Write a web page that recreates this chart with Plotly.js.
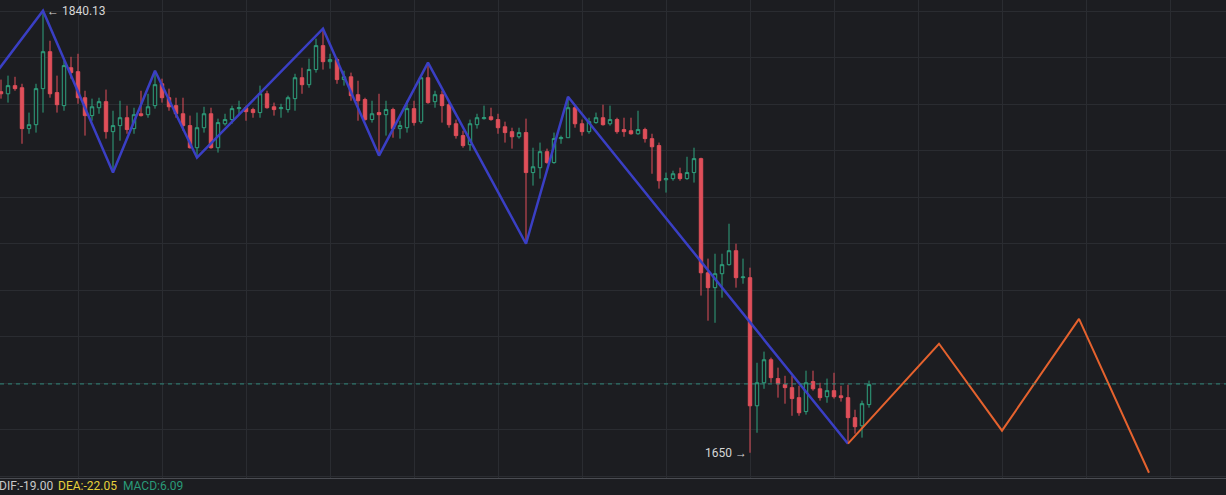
<!DOCTYPE html>
<html>
<head>
<meta charset="utf-8">
<script src="https://cdn.plot.ly/plotly-3.0.1.min.js"></script>
<style>
html,body{margin:0;padding:0;background:#1c1d21;}
#chart{width:1226px;height:495px;}
</style>
</head>
<body>
<div id="chart"></div>
<script>
// Candle OHLC values (one candle per bar index 0..124)
const openP = [1805.3,1804.4,1807.9,1807.0,1789.4,1791.1,1806.6,1822.5,1804.9,1799.3,
1815.6,1813.9,1802.7,1795.0,1798.4,1801.0,1788.1,1790.7,1794.1,1789.4,
1795.8,1795.4,1799.3,1808.7,1802.7,1799.3,1795.8,1790.7,1781.2,1789.8,
1795.8,1781.2,1791.5,1793.3,1798.0,1798.4,1797.6,1796.3,1804.4,1798.8,
1798.0,1797.6,1802.3,1811.3,1808.3,1814.8,1825.1,1818.2,1819.1,1810.5,
1811.7,1804.0,1801.9,1793.3,1796.3,1795.4,1797.6,1789.4,1789.8,1798.0,
1792.4,1811.3,1801.0,1804.0,1799.7,1791.5,1786.4,1782.5,1791.1,1793.7,
1794.5,1793.3,1790.2,1788.1,1785.9,1787.7,1770.5,1772.6,1779.5,1774.8,
1785.1,1785.5,1798.4,1791.5,1788.1,1792.0,1794.1,1791.5,1793.3,1789.0,
1788.5,1787.2,1789.0,1785.1,1782.1,1767.4,1767.9,1770.0,1767.9,1770.5,
1776.5,1727.4,1721.0,1727.0,1730.9,1736.9,1725.3,1725.3,1670.2,1680.1,
1690.0,1681.9,1679.3,1678.0,1673.7,1667.7,1680.6,1677.5,1674.1,1676.7,
1674.5,1673.7,1665.1,1661.6,1670.7];
const highP = [1810.5,1812.2,1811.7,1808.7,1796.3,1808.7,1840.13,1827.2,1812.2,1818.6,
1820.3,1821.6,1805.7,1802.3,1802.7,1806.2,1797.1,1801.4,1799.3,1798.4,
1805.7,1804.4,1814.3,1810.9,1806.6,1802.7,1802.7,1795.0,1796.3,1798.8,
1798.4,1793.7,1795.8,1799.3,1801.4,1799.3,1798.4,1807.9,1805.7,1800.6,
1800.1,1803.6,1813.0,1815.6,1819.5,1828.1,1832.4,1821.6,1819.9,1814.3,
1813.5,1810.0,1802.7,1801.4,1804.4,1801.4,1798.4,1792.8,1801.4,1801.4,
1812.2,1817.8,1805.7,1805.7,1800.6,1793.3,1788.5,1793.3,1795.8,1799.3,
1798.4,1795.8,1792.4,1789.8,1789.8,1793.7,1781.2,1783.4,1780.8,1787.7,
1786.4,1803.1,1799.7,1793.3,1794.1,1796.3,1799.7,1799.3,1794.1,1794.1,
1794.1,1797.1,1789.8,1787.2,1783.4,1770.5,1771.3,1772.6,1777.3,1781.2,
1776.9,1733.5,1735.6,1735.6,1748.5,1739.9,1733.5,1729.6,1688.7,1693.5,
1690.9,1686.6,1683.1,1683.1,1678.8,1685.3,1685.3,1680.1,1681.9,1684.4,
1678.8,1679.3,1668.5,1672.4,1681.0];
const lowP = [1802.3,1800.6,1805.7,1782.9,1787.2,1787.7,1796.3,1802.7,1796.3,1797.1,
1810.9,1800.1,1786.4,1792.8,1795.8,1785.1,1770.5,1784.2,1787.2,1787.2,
1794.6,1794.1,1798.0,1800.6,1797.1,1794.1,1788.5,1780.8,1776.9,1787.7,
1780.8,1779.1,1790.7,1791.5,1795.4,1792.8,1794.1,1794.1,1798.0,1795.0,
1794.1,1796.3,1797.1,1804.4,1807.0,1813.5,1814.8,1815.2,1808.7,1807.9,
1801.4,1792.8,1792.8,1792.0,1777.8,1786.4,1785.5,1785.1,1787.7,1790.7,
1791.5,1800.1,1798.4,1792.0,1789.8,1785.1,1781.2,1779.9,1789.4,1793.3,
1792.8,1787.2,1783.4,1780.8,1785.1,1739.9,1764.9,1767.9,1774.3,1774.3,
1782.9,1785.5,1789.8,1786.4,1787.2,1791.5,1790.7,1790.7,1787.2,1785.9,
1786.8,1786.8,1783.4,1770.0,1763.6,1761.9,1767.0,1767.0,1767.4,1766.2,
1717.6,1706.8,1705.9,1716.7,1730.5,1721.0,1722.7,1650.0,1658.6,1677.5,
1680.1,1673.7,1671.1,1665.9,1665.9,1666.4,1676.7,1672.4,1671.5,1673.3,
1672.0,1653.9,1658.2,1656.5,1669.4];
const closeP = [1804.4,1807.9,1806.6,1789.4,1791.1,1806.6,1822.5,1804.4,1799.7,1816.5,
1813.5,1802.7,1795.0,1798.8,1801.0,1788.1,1790.7,1794.1,1789.0,1795.4,
1795.0,1798.8,1808.3,1802.7,1798.8,1795.8,1790.7,1781.2,1789.8,1795.8,
1781.2,1792.0,1793.3,1798.0,1798.4,1796.7,1796.3,1804.4,1798.4,1797.6,
1798.4,1802.7,1811.3,1808.3,1814.8,1825.1,1818.2,1819.1,1810.5,1811.7,
1803.6,1801.4,1793.3,1795.8,1795.4,1797.6,1789.4,1790.7,1798.0,1792.0,
1811.3,1800.6,1804.0,1799.3,1791.1,1786.4,1782.1,1791.5,1794.1,1794.1,
1793.3,1789.8,1787.7,1785.9,1787.7,1770.5,1773.0,1779.5,1774.8,1785.1,
1785.5,1798.4,1791.5,1788.1,1792.4,1794.1,1791.1,1793.3,1788.1,1788.1,
1787.2,1789.0,1785.1,1781.6,1767.0,1767.9,1770.0,1767.9,1770.5,1776.5,
1727.4,1721.0,1727.0,1730.9,1736.9,1725.3,1725.6,1670.2,1680.1,1690.0,
1682.3,1679.7,1678.0,1673.3,1667.2,1680.1,1677.5,1673.7,1676.7,1674.1,
1673.7,1665.1,1661.2,1671.1,1679.3];
const barIdx = openP.map((_, i) => i);

// Zigzag swing points (bar index, price)
const zigIdx   = [-1, 6, 16, 22, 28, 46, 54, 61, 75, 81, 121];
const zigPrice = [1812.2, 1840.13, 1770.5, 1814.3, 1776.9, 1832.4, 1777.8, 1817.8, 1739.9, 1803.1, 1653.9];

// Projected path
const projIdx   = [121, 134, 143, 154, 164];
const projPrice = [1653.9, 1696.9, 1659.5, 1707.6, 1641.4];

const lastPrice = 1679.6;
const highLabel = {idx: 6, price: 1840.13, text: '← 1840.13'};
const lowLabel  = {idx: 107, price: 1650, text: '1650 →'};
const macdTexts = ['DIF:-19.00', 'DEA:-22.05', 'MACD:6.09'];

const BG = '#1c1d21', GRID = '#2a2c31', UP = '#2fa37f', DOWN = '#e04f5a';

const traces = [
  {
    type: 'candlestick', x: barIdx, open: openP, high: highP, low: lowP, close: closeP,
    increasing: {line: {color: UP, width: 1}, fillcolor: BG},
    decreasing: {line: {color: DOWN, width: 1}, fillcolor: DOWN},
    whiskerwidth: 0, hoverinfo: 'skip', showlegend: false
  },
  {
    type: 'scatter', mode: 'lines', x: zigIdx, y: zigPrice,
    line: {color: '#3a3fc4', width: 2.5}, hoverinfo: 'skip', showlegend: false
  },
  {
    type: 'scatter', mode: 'lines', x: projIdx, y: projPrice,
    line: {color: '#e5622e', width: 2}, hoverinfo: 'skip', showlegend: false
  }
];

const font = {family: 'Roboto, "Noto Sans", sans-serif', size: 12};

const layout = {
  width: 1226, height: 495,
  paper_bgcolor: BG, plot_bgcolor: BG,
  margin: {l: 0, r: 0, t: 0, b: 17, pad: 0},
  font: font,
  showlegend: false,
  xaxis: {
    range: [-0.143, 175], showticklabels: false, zeroline: false,
    showgrid: true, gridcolor: GRID, gridwidth: 1, tick0: 11, dtick: 12, tickmode: 'linear',
    rangeslider: {visible: false}, showline: true, linecolor: '#4a4c52', linewidth: 1,
    fixedrange: true
  },
  yaxis: {
    range: [1639.14, 1844.73], showticklabels: false, zeroline: false,
    showgrid: true, gridcolor: GRID, gridwidth: 1, tick0: 1640, dtick: 20, tickmode: 'linear',
    fixedrange: true
  },
  shapes: [
    {type: 'line', xref: 'paper', x0: 0, x1: 1, yref: 'y', y0: lastPrice, y1: lastPrice,
     line: {color: '#2f8a7c', width: 1, dash: '4px,4px'}}
  ],
  annotations: [
    {xref: 'x', yref: 'y', x: highLabel.idx, y: highLabel.price, text: highLabel.text,
     showarrow: false, xanchor: 'left', yanchor: 'middle', xshift: 2,
     font: {family: font.family, size: 12, color: '#d6d6d6'}},
    {xref: 'x', yref: 'y', x: lowLabel.idx, y: lowLabel.price, text: lowLabel.text,
     showarrow: false, xanchor: 'right', yanchor: 'middle', xshift: -1,
     font: {family: font.family, size: 12, color: '#d6d6d6'}},
    {xref: 'paper', yref: 'paper', x: 0, y: -0.017, text: macdTexts[0], showarrow: false,
     xanchor: 'left', yanchor: 'middle', xshift: -3,
     font: {family: font.family, size: 12, color: '#c9c9c9'}},
    {xref: 'paper', yref: 'paper', x: 0, y: -0.017, text: macdTexts[1], showarrow: false,
     xanchor: 'left', yanchor: 'middle', xshift: 56,
     font: {family: font.family, size: 12, color: '#e6d13c'}},
    {xref: 'paper', yref: 'paper', x: 0, y: -0.017, text: macdTexts[2], showarrow: false,
     xanchor: 'left', yanchor: 'middle', xshift: 121,
     font: {family: font.family, size: 12, color: '#2a9a78'}}
  ]
};

Plotly.newPlot('chart', traces, layout, {displayModeBar: false, staticPlot: true});
</script>
</body>
</html>
